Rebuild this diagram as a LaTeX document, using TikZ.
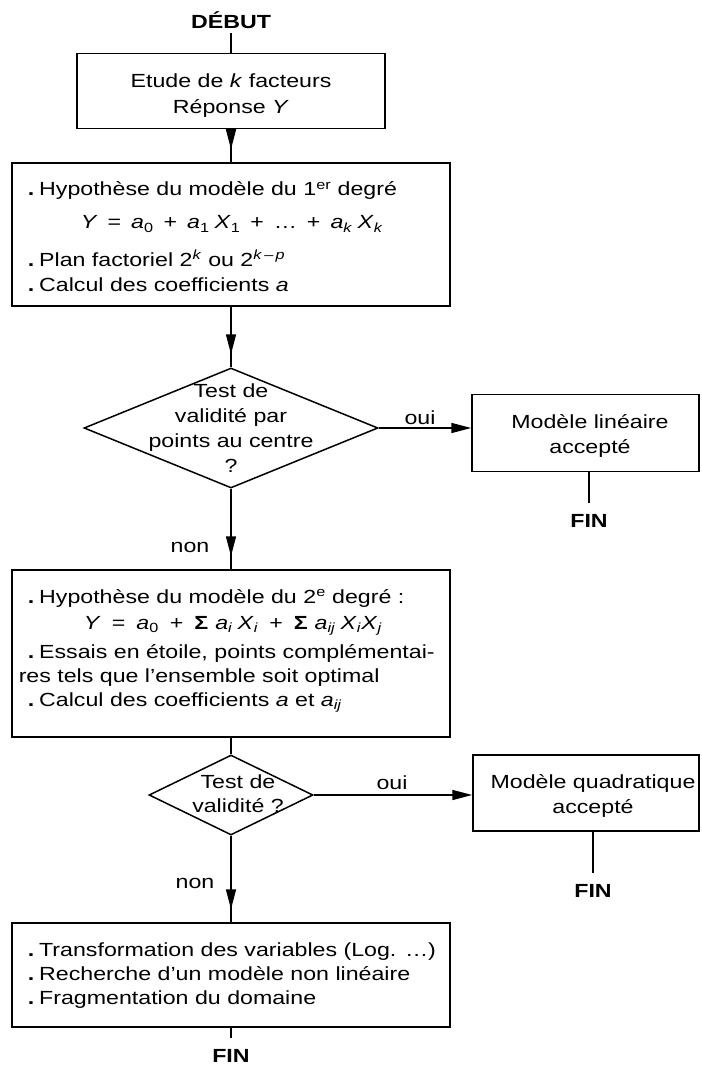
\documentclass[tikz,border=0pt]{standalone}
\usepackage{fontspec}
\setmainfont[FakeStretch=1.22]{Liberation Sans}
\usetikzlibrary{arrows.meta,shapes.geometric,decorations.markings}
\newcommand{\fs}{\fontsize{19}{22}\selectfont}
\newcommand{\bul}{\textbf{.}\hspace{5pt}}
\newcommand{\gap}{\hspace{10pt}}
\newcommand{\gapb}{\hspace{11pt}}
\begin{document}
\begin{tikzpicture}[x=1pt,y=-1pt,line width=1.5pt,
  every node/.style={inner sep=0pt, font=\fs},
  box/.style={draw, rectangle, inner sep=0pt},
  dia/.style={draw, diamond, inner sep=0pt},
  ln/.style={anchor=base west},
  cl/.style={anchor=base},
  endtxt/.style={anchor=base, font=\fs\bfseries, inner ysep=10pt},
  tip/.style={-{Triangle[length=20pt,width=10pt]}},
  midarrow/.style={postaction={decorate},
    decoration={markings, mark=at position -13pt with {\arrow{Triangle[length=20pt,width=10pt]}}}}
]
\useasboundingbox (0,0) rectangle (701,1067);

% start
\node[cl, font=\fs\bfseries, inner ysep=3pt] (debut) at (231,29) {DÉBUT};

% box 1
\node[box, minimum width=308pt, minimum height=75pt] (b1) at (231,91) {};
\node[cl] (b1a) at (231,88) {Etude de \textit{k} facteurs};
\node[cl] (b1b) at (231,114) {Réponse \textit{Y}};

% box 2
\node[box, minimum width=438pt, minimum height=143pt] (b2) at (231,234.5) {};
\node[ln] (b2a) at (27,196) {\bul Hypothèse du modèle du 1\textsuperscript{er} degré};
\node[cl] (b2b) at (232,229) {\textit{Y}\gap=\gap\textit{a}\textsubscript{0}\gap+\gap\textit{a}\textsubscript{1}\hspace{5pt}\textit{X}\textsubscript{1}\gap+\gap…\gap+\gap\textit{a}\textsubscript{\textit{k}}\hspace{5pt}\textit{X}\textsubscript{\textit{k}}};
\node[ln] (b2c) at (27,266) {\bul Plan factoriel 2\textsuperscript{\textit{k}} ou 2\textsuperscript{\textit{k}\,–\,\textit{p}}};
\node[ln] (b2d) at (27,291) {\bul Calcul des coefficients \textit{a}};

% diamond 1
\node[dia, minimum width=294pt, minimum height=120pt] (d1) at (231,428) {};
\node[cl] (d1a) at (231,397) {Test de};
\node[cl] (d1b) at (231,422) {validité par};
\node[cl] (d1c) at (231,447) {points au centre};
\node[cl] (d1d) at (231,472) {?};
\node[cl] (oui1) at (420,424) {oui};

% right box 1
\node[box, minimum width=227pt, minimum height=77pt] (r1) at (585.5,433) {};
\node[cl] (r1a) at (590,428) {Modèle linéaire};
\node[cl] (r1b) at (590,453) {accepté};
\node[endtxt] (fin1) at (589,527) {FIN};

% non 1
\node[cl] (non1) at (190,552) {non};

% box 3
\node[box, minimum width=438pt, minimum height=167pt] (b3) at (231,653.5) {};
\node[ln] (b3a) at (27,603) {\bul Hypothèse du modèle du 2\textsuperscript{e} degré :};
\node[cl] (b3b) at (233,629) {\textit{Y}\gapb=\gapb\textit{a}\textsubscript{0}\gapb+\gapb\textbf{Σ}\hspace{7pt}\textit{a}\textsubscript{\textit{i}}\hspace{5pt}\textit{X}\textsubscript{\textit{i}}\gapb+\gapb\textbf{Σ}\hspace{7pt}\textit{a}\textsubscript{\textit{ij}}\hspace{5pt}\textit{X}\textsubscript{\textit{i}}\textit{X}\textsubscript{\textit{j}}};
\node[ln] (b3c) at (27,658) {\bul Essais en étoile, points complémentai-};
\node[ln] (b3d) at (18,682) {res tels que l'ensemble soit optimal};
\node[ln] (b3e) at (27,706) {\bul Calcul des coefficients \textit{a} et \textit{a}\textsubscript{\textit{ij}}};

% diamond 2
\node[dia, minimum width=164pt, minimum height=80pt] (d2) at (231,795) {};
\node[cl] (d2a) at (238,788) {Test de};
\node[cl] (d2b) at (238,812) {validité ?};
\node[cl] (oui2) at (392,789) {oui};

% right box 2
\node[box, minimum width=226pt, minimum height=76pt] (r2) at (586,793) {};
\node[cl] (r2a) at (593,788) {Modèle quadratique};
\node[cl] (r2b) at (593,813) {accepté};
\node[endtxt] (fin2) at (593,897) {FIN};

% non 2
\node[cl] (non2) at (195,888) {non};

% box 4
\node[box, minimum width=438pt, minimum height=104pt] (b4) at (231,975) {};
\node[ln] (b4a) at (27,956) {\bul Transformation des variables (Log. …)};
\node[ln] (b4b) at (27,980) {\bul Recherche d'un modèle non linéaire};
\node[ln] (b4c) at (27,1004) {\bul Fragmentation du domaine};
\node[endtxt, inner ysep=0pt] (fin3) at (231,1062) {FIN};

% connectors
\draw (debut.south) -- (b1.north);
\draw[midarrow] (b1.south) -- (b2.north);
\draw[midarrow] (b2.south) -- (d1.north);
\draw[tip] (d1.east) -- (d1.east -| r1.west);
\draw (r1.south -| fin1.north) -- (fin1.north);
\draw[midarrow] (d1.south) -- (b3.north);
\draw (b3.south) -- (d2.north);
\draw[tip] (d2.east) -- (d2.east -| r2.west);
\draw (r2.south -| fin2.north) -- (fin2.north);
\draw[midarrow] (d2.south) -- (b4.north);
\draw (b4.south) -- ([yshift=10pt]fin3.north);
\end{tikzpicture}
\end{document}
